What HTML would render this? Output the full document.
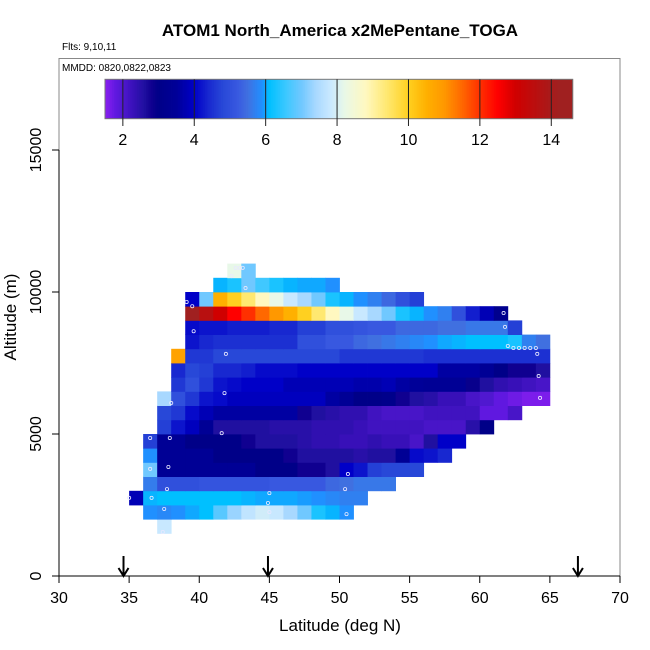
<!DOCTYPE html>
<html><head><meta charset="utf-8">
<style>
html,body{margin:0;padding:0;background:#fff;}
svg{display:block;font-family:"Liberation Sans",Arial,sans-serif;}
</style></head>
<body>
<svg id="chart" width="650" height="650" viewBox="0 0 650 650">
<text x="340" y="36" text-anchor="middle" font-size="17" font-weight="bold">ATOM1 North_America x2MePentane_TOGA</text>
<text x="62" y="50" font-size="10">Flts: 9,10,11</text>
<rect x="59" y="58.5" width="561" height="517.5" fill="none" stroke="#888" stroke-width="1"/>
<text x="62" y="71" font-size="10">MMDD: 0820,0822,0823</text>
<g id="cells"></g>
<g id="pts"></g>
<g id="cbar"></g>
<g id="axes"></g>
<text x="340" y="631" text-anchor="middle" font-size="17">Latitude (deg N)</text>
<text transform="translate(16,317) rotate(-90)" text-anchor="middle" font-size="17">Altitude (m)</text>
</svg>
<script>
const rowAlt = [1500,2000,2500,3000,3500,4000,4500,5000,5500,6000,6500,7000,7500,8000,8500,9000,9500,10000,10500];
const rowStartLat = [37,36,35,36,36,36,36,37,37,37,38,38,38,39,39,39,39,41,42];
const rowValues = [
 [7.8],
 [5.9,5.8,5.9,6.0,6.1,6.8,7.3,7.7,7.9,7.8,7.4,7.0,6.3,6.05,5.9],
 [3.8,6.05,6.1,6.1,6.1,6.1,6.1,6.1,6.05,6.0,6.0,6.0,5.95,5.9,5.8,5.7,5.7],
 [5.65,5.0,5.0,5.0,5.1,5.1,5.1,5.1,5.1,5.2,5.2,5.2,5.2,5.4,5.5,5.6,5.6,5.6],
 [7.0,3.4,3.4,3.4,3.4,3.4,3.4,3.4,3.0,3.0,3.0,2.8,2.8,2.6,4.0,4.2,4.7,4.8,4.8,4.8],
 [5.9,3.4,3.4,3.4,3.4,3.0,3.0,3.0,3.0,3.0,2.8,2.6,2.6,2.6,2.6,2.5,2.6,2.6,3.4,4.1,4.2,4.4],
 [4.7,3.4,3.4,3.0,3.0,3.0,3.0,2.8,2.6,2.6,2.6,2.5,2.4,2.4,2.3,2.3,2.4,2.3,2.3,2.1,2.6,4.0,4.0],
 [4.7,4.2,3.9,3.4,2.6,2.6,2.6,2.6,2.5,2.5,2.5,2.4,2.4,2.4,2.3,2.2,2.2,2.2,2.2,2.1,2.1,2.1,2.5,3.0],
 [4.8,4.6,4.1,3.8,3.6,3.6,3.6,3.6,3.6,3.6,2.8,2.6,2.5,2.4,2.4,2.2,2.1,2.1,2.1,2.2,2.2,2.2,2.2,1.8,1.8,2.1],
 [7.4,5.0,4.6,4.2,4.1,3.9,3.9,3.9,3.9,3.9,3.9,3.9,3.6,3.4,3.0,3.0,3.1,2.8,2.6,2.5,2.3,2.3,2.1,2.0,1.8,1.7,1.6,1.6],
 [4.6,5.0,4.6,4.2,4.1,4.0,4.0,4.0,3.8,3.8,3.8,3.8,3.8,3.7,3.7,3.8,3.6,3.5,3.4,3.4,3.4,2.9,2.6,2.4,2.3,2.2,2.1],
 [4.4,4.8,4.7,4.4,4.4,4.3,4.1,4.1,4.1,4.0,4.0,4.0,4.0,4.0,4.0,4.0,4.0,4.0,4.0,3.6,3.6,3.6,3.4,3.0,2.8,2.8,2.6],
 [10.8,4.6,4.6,4.8,4.8,4.8,4.8,4.8,4.8,4.8,4.8,4.8,4.6,4.6,4.6,4.6,4.6,4.6,4.5,4.5,4.5,4.5,4.5,4.5,4.5,4.5,4.5],
 [4.2,4.4,4.5,4.5,4.5,4.5,4.5,4.5,5.0,5.0,5.2,5.2,5.4,5.5,5.6,5.7,5.8,5.9,6.0,6.05,6.1,6.1,6.1,6.3,5.7,5.5],
 [4.1,4.2,4.2,4.3,4.3,4.3,4.4,4.4,4.7,4.7,5.0,5.0,5.1,5.2,5.2,5.4,5.4,5.4,5.5,5.5,5.6,5.6,5.6,4.7],
 [14.2,13.6,13.0,12.5,12.0,11.5,11.0,10.5,10.0,9.4,8.8,8.2,7.8,7.4,7.0,6.3,6.05,5.9,5.7,5.0,4.3,3.8,3.2],
 [4.0,7.0,10.5,10.0,9.4,8.8,8.2,7.8,7.4,7.0,6.3,6.05,5.9,5.7,5.4,5.0,4.7],
 [6.05,6.3,7.0,6.6,6.3,6.05,6.0,6.0,5.9],
 [8.2,7.0]
];
const ptLat = [42.6,42.9,43.1,42.3,43.3,39.1,39.5,39.6,41.9,41.8,38.0,36.5,37.9,41.6,36.5,37.8,50.6,50.4,37.7,45.0,44.9,45.0,37.5,50.5,35.0,36.6,37.4,61.7,61.8,62.0,62.4,62.8,63.2,63.6,64.0,64.1,64.2,64.3];
const ptAlt = [10850,10850,10850,10560,10140,9650,9500,8620,7820,6440,6090,4860,4860,5030,3770,3840,3590,3060,3060,2920,2570,2250,2360,2180,2750,2750,1550,9260,8770,8100,8030,8030,8030,8030,8030,7820,7040,6270];
const arrowLat = [34.6,44.9,67.0];
const xTicks = [30,35,40,45,50,55,60,65,70];
const yTicks = [0,5000,10000,15000];
const cbTicks = [2,4,6,8,10,12,14];
const cbMin = 1.5, cbMax = 14.6;
const latStep = 1, altStep = 500;

const stops = [[1.5,'#8a20f0'],[1.8,'#6018e0'],[2.0,'#5018d0'],[2.3,'#3810b8'],[2.6,'#2010a0'],[2.8,'#100090'],[3.0,'#000088'],[3.5,'#000098'],[4.0,'#0000c8'],[4.4,'#1828d0'],[4.8,'#2848d8'],[5.2,'#3858e0'],[5.5,'#4070e0'],[5.7,'#3080f0'],[5.9,'#2090ff'],[6.0,'#10a8ff'],[6.1,'#00c0ff'],[6.6,'#40c8ff'],[7.0,'#70c8ff'],[7.4,'#a8d8ff'],[7.8,'#c8e8ff'],[8.2,'#e8f8e8'],[8.8,'#fff8c0'],[9.4,'#ffe870'],[10.0,'#ffd020'],[10.5,'#ffb000'],[11.0,'#ff9800'],[11.5,'#ff6800'],[12.0,'#ff3000'],[12.5,'#ff0000'],[13.0,'#d00000'],[13.6,'#b81010'],[14.2,'#a02020'],[14.6,'#a02020']];
function hex(c){return [parseInt(c.substr(1,2),16),parseInt(c.substr(3,2),16),parseInt(c.substr(5,2),16)];}
function color(v){
  if(v<=stops[0][0]) return stops[0][1];
  for(let i=1;i<stops.length;i++){
    if(v<=stops[i][0]){
      const a=hex(stops[i-1][1]),b=hex(stops[i][1]);
      const t=(v-stops[i-1][0])/(stops[i][0]-stops[i-1][0]);
      return 'rgb('+a.map((x,k)=>Math.round(x+(b[k]-x)*t)).join(',')+')';
    }
  }
  return stops[stops.length-1][1];
}
const X = lat => 59 + (lat-30)*561/40;
const Y = alt => 576 - alt*426/15000;
const CB = v => 105 + (v-cbMin)*(572.7-105)/(cbMax-cbMin);
const NS='http://www.w3.org/2000/svg';
function mk(tag,attrs,parent){const e=document.createElementNS(NS,tag);for(const k in attrs)e.setAttribute(k,attrs[k]);parent.appendChild(e);return e;}

const cells=document.getElementById('cells');
rowAlt.forEach((alt,r)=>{
  rowValues[r].forEach((v,i)=>{
    const lat=rowStartLat[r]+i*latStep;
    const x0=X(lat),x1=X(lat+latStep),y0=Y(alt+altStep),y1=Y(alt);
    const e=mk('rect',{x:x0.toFixed(2),y:y0.toFixed(2),width:(x1-x0+0.4).toFixed(2),height:(y1-y0+0.4).toFixed(2),fill:color(v)},cells);
    
    
  });
});
const pts=document.getElementById('pts');
ptLat.forEach((lat,i)=>{
  const e=mk('circle',{cx:X(lat).toFixed(2),cy:Y(ptAlt[i]).toFixed(2),r:1.6,fill:'none',stroke:'#e8e8ff','stroke-width':0.8},pts);
  
  
});
const cb=document.getElementById('cbar');
for(let v=cbMin;v<cbMax;v+=0.05){
  mk('rect',{x:CB(v).toFixed(2),y:79.3,width:(CB(v+0.05)-CB(v)+0.4).toFixed(2),height:39.4,fill:color(v+0.025)},cb);
}
const cbBorder=mk('rect',{x:105,y:79.3,width:467.7,height:39.4,fill:'none',stroke:'#777','stroke-width':1},cb);


cbTicks.forEach(t=>{
  mk('line',{x1:CB(t),x2:CB(t),y1:79.3,y2:126,stroke:'#222','stroke-width':1},cb);
  const tx=mk('text',{x:CB(t),y:145,'text-anchor':'middle','font-size':16},cb);
  tx.textContent=t;
  
  
});
const ax=document.getElementById('axes');
mk('line',{x1:59,x2:620,y1:576,y2:576,stroke:'#000','stroke-width':1},ax);
xTicks.forEach(t=>{
  mk('line',{x1:X(t),x2:X(t),y1:576,y2:583,stroke:'#000','stroke-width':1},ax);
  const tx=mk('text',{x:X(t),y:603,'text-anchor':'middle','font-size':16},ax);
  tx.textContent=t;
  
  
});
mk('line',{x1:59,x2:59,y1:Y(0),y2:Y(15000),stroke:'#000','stroke-width':1},ax);
yTicks.forEach(t=>{
  mk('line',{x1:52,x2:59,y1:Y(t),y2:Y(t),stroke:'#000','stroke-width':1},ax);
  const tx=mk('text',{transform:'translate(41,'+Y(t)+') rotate(-90)','text-anchor':'middle','font-size':16},ax);
  tx.textContent=t;
  
  
});
arrowLat.forEach(lat=>{
  const x=X(lat);
  const g=mk('g',{},ax);
  
  
  mk('line',{x1:x,x2:x,y1:556,y2:575,stroke:'#000','stroke-width':2},g);
  mk('polyline',{points:(x-5)+',568 '+x+',576 '+(x+5)+',568',fill:'none',stroke:'#000','stroke-width':2},g);
});
</script>
</body></html>
